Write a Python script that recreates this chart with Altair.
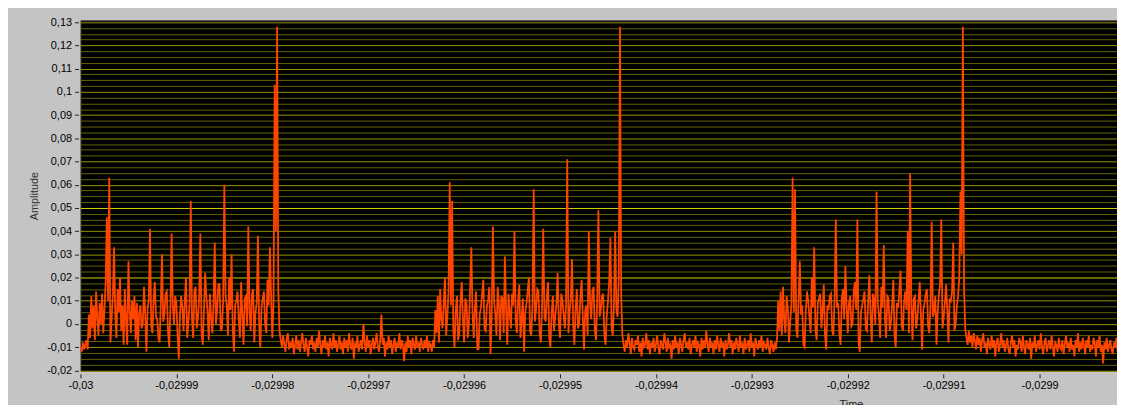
import altair as alt
import numpy as np
import pandas as pd

T0 = -0.03
SAMPLE_STEP = 1.25e-7

BURST_1 = [
    -10, -12, -8, -11, -9, -7, -11, 4, -6, 12,
    -2, 8, -7, 14, 3, -5, 9, 0, 13, -4,
    6, 18, 46, 10, 63, -8, 2, 12, 33, 4,
    -6, 15, 5, 20, -3, 8, -9, 15, 1, -9,
    27, 6, -4, 10, 2, 12, -7, 9, -10, 5,
    8, -2, 0, 16, 4, -12, 7, 10, 41, -1,
    -4, 11, 18, 3, 2, -6, -8, 9, 30, 1,
    4, 13, 14, -3, -10, 6, 39, 8, 0, 12,
    9, -5, -15, 4, 12, 7, -3, 10, 20, -6,
    1, 8, 53, 2, -6, 14, 16, -2, 3, 11,
    39, -4, -9, 6, 22, 12, 5, -7, 13, 2,
    -4, 9, 35, 0, 6, 17, 17, -3, -2, 10,
    60, 12, 8, -5, 20, 6, 30, -2, -12, 8,
    10, 14, 2, -6, 18, 4, -9, 11, 12, -1,
    42, 5, -3, 13, 15, -8, 5, 9, 38, 0,
    -10, 7, 11, 14, 0, -4, 19, 8, 33, 12,
    -6, 8, 103, 40, 128, 15,
]
QUIET_1 = [
    -3, -7, -10, -5, -9, -12, -6, -4, -11, -8,
    -10, -6, -13, -9, -5, -11, -7, -12, -8, -4,
    -9, -12, -6, -10, -14, -7, -9, -5, -11, -8,
    -12, -6, -10, -3, -9, -13, -7, -10, -5, -11,
    -8, -14, -6, -9, -11, -4, -10, -7, -12, -9,
    -5, -11, -8, -13, -6, -10, -7, -12, -4, -9,
    -11, -6, -15, -8, -10, -5, -12, -9, -7, -11,
    0, -8, -12, -5, -10, -7, -13, -9, -6, -11,
    -8, -4, -10, -12, -7, 4, -9, -6, -14, -8,
    -11, -5, -10, -7, -13, -9, -6, -12, -8, -10,
    -4, -11, -7, -9, -16, -8, -12, -5, -10, -7,
    -13, -6, -9, -11, -5, -10, -8, -12, -6, -9,
    -11, -7, -10, -5, -12, -8,
]
BURST_2 = [
    -9, -12, -7, -10, 6, -4, 12, -8, 15, 2,
    -2, 9, 20, -5, 3, 14, 61, 8, 53, -3,
    -10, 6, 12, -7, -4, 10, 18, 2, -8, 11,
    9, -6, 0, 15, 33, 5, -6, 7, 14, -11,
    -11, 4, 7, 13, 19, -2, -3, 8, 10, 16,
    -13, 3, 42, 10, 4, -5, 16, 9, -7, 12,
    11, -4, 29, 6, -9, 13, 5, -2, 13, 8,
    40, 2, -4, 10, 17, -6, 2, 11, -12, 5,
    9, 14, 20, -3, -5, 8, 58, 1, 6, 15,
    14, -4, -8, 7, 41, 3, 1, 12, 18, -6,
    -10, 5, 12, -3, 3, 9, 22, 0, -6, 13,
    10, 4, -2, 8, 71, -4, 5, 11, 28, -1,
    -9, 7, 15, -2, 0, 12, 19, 3, -11, 6,
    8, -5, 40, 9, 2, 14, 16, -3, -7, 10,
    49, 3, 6, 12, 13, -5, -9, 4, 10, 18,
    37, -2, -5, 9, 40, 6, 3, 20, 128, 12,
]
QUIET_2 = [
    -5, -9, -12, -7, -10, -4, -8, -13, -6, -10,
    -11, -7, -9, -5, -12, -8, -14, -6, -10, -9,
    -4, -11, -7, -13, -8, -10, -6, -12, -9, -5,
    -10, -13, -7, -9, -11, -4, -8, -12, -6, -10,
    -9, -15, -7, -11, -5, -10, -8, -13, -6, -9,
    -12, -7, -4, -10, -8, -11, -6, -13, -9, -7,
    -10, -5, -12, -8, -9, -14, -6, -11, -7, -10,
    -3, -9, -12, -6, -10, -8, -13, -7, -11, -5,
    -9, -12, -6, -10, -8, -14, -7, -11, -9, -4,
    -10, -7, -13, -8, -11, -6, -9, -12, -5, -10,
    -8, -13, -6, -11, -9, -7, -12, -4, -10, -8,
    -14, -6, -9, -11, -7, -10, -5, -12, -8, -9,
    -11, -6, -10, -13, -7, -9,
]
BURST_3 = [
    -12, -8, -11, -6, 10, -3, 14, -5, 16, 2,
    -4, 12, 7, -8, 1, 9, 63, 5, 58, -2,
    -6, 11, 27, 4, 8, -9, -10, 6, 14, 10,
    3, -4, 20, 7, 33, -2, -7, 9, 11, 13,
    -2, 6, 17, -5, -11, 8, 6, 12, 13, -3,
    -5, 10, 45, 7, 9, -4, -9, 11, 15, 2,
    25, 8, -4, 9, 12, -1, 0, 14, 18, 6,
    45, -8, -12, 5, 8, 11, 14, -2, -3, 10,
    21, 4, -8, 13, 10, 0, 57, 9, 4, -6,
    16, 7, 34, 2, -6, 12, 11, -3, 1, 8,
    19, -5, -10, 9, 7, 14, 23, -1, -3, 10,
    14, 6, 40, -4, 65, 8, -7, 11, 12, -2,
    2, 10, 18, 4, -11, 6, 9, 13, 15, -1,
    -4, 8, 44, 3, 6, 12, -9, 5, 13, 17,
    45, -2, 3, 9, 17, 6, -8, 11, 10, 14,
    35, -3, 0, 8, 12, 20, 57, 30, 128, 15,
]
QUIET_3 = [
    -2, -6, -9, -3, -8, -5, -10, -4, -7, -11,
    -5, -9, -6, -12, -7, -4, -10, -8, -13, -6,
    -9, -11, -5, -10, -7, -14, -8, -6, -12, -9,
    -4, -10, -7, -12, -9, -6, -11, -13, -8, -5,
    -10, -7, -14, -9, -11, -6, -8, -12, -5, -10,
    -13, -7, -9, -11, -6, -15, -8, -10, -5, -12,
    -9, -7, -11, -4, -10, -13, -8, -6, -12, -9,
    -7, -11, -5, -10, -14, -8, -9, -12, -6, -10,
    -11, -7, -13, -9, -5, -10, -8, -12, -6, -11,
    -9, -14, -7, -10, -4, -12, -8, -11, -6, -9,
    -13, -7, -10, -5, -12, -9, -11, -6, -8, -14,
    -7, -10, -5, -12, -9, -17, -8, -11, -6, -12,
    -9, -7, -11, -13, -8, -10, -6, -12,
]

X_TICKS = [-0.03, -0.02999, -0.02998, -0.02997, -0.02996, -0.02995,
           -0.02994, -0.02993, -0.02992, -0.02991, -0.0299]
Y_TICKS = [-0.02, -0.01, 0.0, 0.01, 0.02, 0.03, 0.04, 0.05, 0.06,
           0.07, 0.08, 0.09, 0.1, 0.11, 0.12, 0.13]
Y_MINOR_STEP = 0.0025
X_DOMAIN = [-0.03, -0.02989193]
Y_DOMAIN = [-0.0202, 0.1308]

segments = [BURST_1, QUIET_1, BURST_2, QUIET_2, BURST_3, QUIET_3]
amp_milli = [v for seg in segments for v in seg]
df = pd.DataFrame({
    "t": T0 + np.arange(len(amp_milli)) * SAMPLE_STEP,
    "amp": np.array(amp_milli, dtype=float) / 1000.0,
})

y_grid = (np.round(np.arange(Y_TICKS[0], Y_TICKS[-1] + 1e-9, Y_MINOR_STEP), 4) + 0.0).tolist()

MINUS = "\u2212"
is_major = "abs(datum.value * 100 - round(datum.value * 100)) < 0.001"
is_bright = "abs(datum.value - 0.02) < 0.0001 || abs(datum.value - 0.05) < 0.0001"
x_label = f"replace(replace(format(datum.value, '.5~f'), '.', ','), '{MINUS}', '-')"
y_label = (f"({is_major}) ? replace(replace(format(datum.value, '.2~f'), '.', ','), "
           f"'{MINUS}', '-') : ''")

FONT = "Liberation Sans"

line = alt.Chart(df).mark_line(
    color="#ff4400", strokeWidth=1.8, clip=True
).encode(
    x=alt.X(
        "t:Q",
        title="Time",
        scale=alt.Scale(domain=X_DOMAIN, nice=False, zero=False),
        axis=alt.Axis(
            values=X_TICKS, grid=False, domain=False,
            tickSize=4, tickColor="#222222", offset=3,
            labelPadding=2, labelExpr=x_label, labelFlush=False,
            labelOverlap=False, labelFont=FONT, labelFontSize=11,
            labelColor="#000000",
            titleFont=FONT, titleFontSize=11, titleFontWeight="normal",
            titleColor="#222222", titleX=776, titleY=25, titleBaseline="top",
        ),
    ),
    y=alt.Y(
        "amp:Q",
        title="Amplitude",
        scale=alt.Scale(domain=Y_DOMAIN, nice=False, zero=False),
        axis=alt.Axis(
            values=y_grid, grid=True, domain=False,
            gridColor={"condition": [{"test": is_bright, "value": "#d0d000"},
                                     {"test": is_major, "value": "#959500"}],
                       "value": "#626200"},
            gridWidth=1,
            tickSize=4, tickColor="#222222",
            tickOpacity={"condition": {"test": is_major, "value": 1}, "value": 0},
            offset=2, labelPadding=3, labelExpr=y_label, labelOverlap=False,
            labelFont=FONT, labelFontSize=11, labelColor="#000000",
            titleFont=FONT, titleFontSize=11, titleFontWeight="normal",
            titleColor="#333333", titleX=-44, titleBaseline="middle",
        ),
    ),
)

chart = line.properties(
    width=1044,
    height=353,
    autosize=alt.AutoSizeParams(type="none"),
    padding={"left": 73, "top": 11, "right": 0, "bottom": 33},
    background="#c4c4c4",
).configure(font=FONT).configure_view(
    fill="#000000", stroke="#3a3a3a", strokeWidth=1
)

chart.save("out.html", embed_options={"renderer": "svg", "actions": False})
